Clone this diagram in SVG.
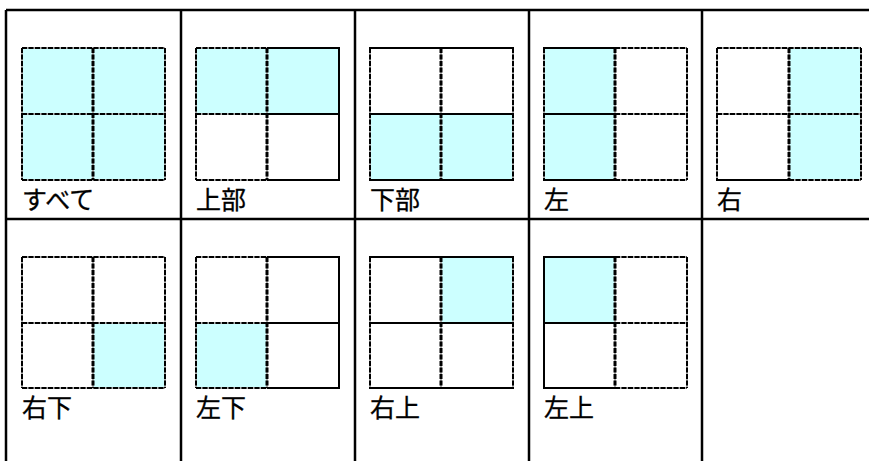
<svg xmlns="http://www.w3.org/2000/svg" width="869" height="461" viewBox="0 0 869 461">
<style>
.tbl{stroke:#000;stroke-width:2.5;fill:none}
.fill{fill:#CCFFFF}
.s{stroke:#000;stroke-width:2;fill:none;stroke-linecap:square}
.du{stroke:#b0b0b0;stroke-width:2;fill:none}
.d{stroke:#000;stroke-width:2;fill:none;stroke-dasharray:5 1.5}
.dv{stroke:#000;stroke-width:3;fill:none;stroke-dasharray:5 1.5}
.lbl{font-family:"Noto Sans CJK JP","Noto Sans CJK SC",sans-serif;font-size:25px;fill:#000;stroke:#000;stroke-width:0.3}
</style>
<rect x="0" y="0" width="869" height="461" fill="#fff"/>
<g id="table">
<line class="tbl" x1="6" y1="10" x2="869" y2="10"/>
<line class="tbl" x1="6" y1="219" x2="869" y2="219"/>
<line class="tbl" x1="6" y1="10" x2="6" y2="461"/>
<line class="tbl" x1="181" y1="10" x2="181" y2="461"/>
<line class="tbl" x1="355" y1="10" x2="355" y2="461"/>
<line class="tbl" x1="529" y1="10" x2="529" y2="461"/>
<line class="tbl" x1="702" y1="10" x2="702" y2="461"/>
</g>

<g id="all" transform="translate(22,48)">
<rect class="fill" x="0" y="0" width="143" height="132"/>
<path class="du" d="M0,0H143M0,66H143M0,132H143M0,0V132M71,0V132M143,0V132"/>
<path class="d" d="M0,0H143M0,66H143M0,132H143M0,0V132M143,0V132"/>
<path class="dv" d="M71,0V132"/>
<text class="lbl" x="0" y="161">すべて</text>
</g>

<g id="top" transform="translate(196,48)">
<rect class="fill" x="0" y="0" width="143" height="66"/>
<path class="s" d="M71,0H143V132H71M71,66H143"/>
<path class="du" d="M0,0H71M0,66H71M0,132H71M0,0V132M71,0V132"/>
<path class="d" d="M0,0H71M0,66H71M0,132H71M0,0V132"/>
<path class="dv" d="M71,0V132"/>
<text class="lbl" x="0" y="161">上部</text>
</g>

<g id="bottom" transform="translate(370,48)">
<rect class="fill" x="0" y="66" width="143" height="66"/>
<path class="s" d="M0,0H143M0,66H143M0,132H143"/>
<path class="du" d="M0,0V132M71,0V132M143,0V132"/>
<path class="d" d="M0,0V132M143,0V132"/>
<path class="dv" d="M71,0V132"/>
<text class="lbl" x="0" y="161">下部</text>
</g>

<g id="left" transform="translate(544,48)">
<rect class="fill" x="0" y="0" width="71" height="132"/>
<path class="s" d="M0,0H71M0,66H71M0,132H71"/>
<path class="du" d="M71,0H143M71,66H143M71,132H143M0,0V132M71,0V132M143,0V132"/>
<path class="d" d="M71,0H143M71,66H143M71,132H143M0,0V132M143,0V132"/>
<path class="dv" d="M71,0V132"/>
<text class="lbl" x="0" y="161">左</text>
</g>

<g id="right" transform="translate(717,48)">
<rect class="fill" x="72" y="0" width="72" height="132"/>
<path class="s" d="M0,132H72"/>
<path class="du" d="M0,0H144M0,66H144M72,132H144M0,0V132M72,0V132M144,0V132"/>
<path class="d" d="M0,0H144M0,66H144M72,132H144M0,0V132M144,0V132"/>
<path class="dv" d="M72,0V132"/>
<text class="lbl" x="0" y="161">右</text>
</g>

<g id="bottom-right" transform="translate(22,257)">
<rect class="fill" x="71" y="66" width="72" height="65"/>
<path class="du" d="M0,0H143M0,66H143M0,131H143M0,0V131M71,0V131M143,0V131"/>
<path class="d" d="M0,0H143M0,66H143M0,131H143M0,0V131M143,0V131"/>
<path class="dv" d="M71,0V131"/>
<text class="lbl" x="0" y="160">右下</text>
</g>

<g id="bottom-left" transform="translate(196,257)">
<rect class="fill" x="0" y="66" width="71" height="65"/>
<path class="s" d="M71,0H143V131H71M71,66H143"/>
<path class="du" d="M0,0H71M0,66H71M0,131H71M0,0V131M71,0V131"/>
<path class="d" d="M0,0H71M0,66H71M0,131H71M0,0V131"/>
<path class="dv" d="M71,0V131"/>
<text class="lbl" x="0" y="160">左下</text>
</g>

<g id="top-right" transform="translate(370,257)">
<rect class="fill" x="71" y="0" width="72" height="66"/>
<path class="s" d="M0,0H143M0,66H143M0,131H143"/>
<path class="du" d="M0,0V131M71,0V131M143,0V131"/>
<path class="d" d="M0,0V131M143,0V131"/>
<path class="dv" d="M71,0V131"/>
<text class="lbl" x="0" y="160">右上</text>
</g>

<g id="top-left" transform="translate(544,257)">
<rect class="fill" x="0" y="0" width="71" height="66"/>
<path class="s" d="M71,0H0V131H71M0,66H71"/>
<path class="du" d="M71,0H143M71,66H143M71,131H143M71,0V131M143,0V131"/>
<path class="d" d="M71,0H143M71,66H143M71,131H143M143,0V131"/>
<path class="dv" d="M71,0V131"/>
<text class="lbl" x="0" y="160">左上</text>
</g>
</svg>
